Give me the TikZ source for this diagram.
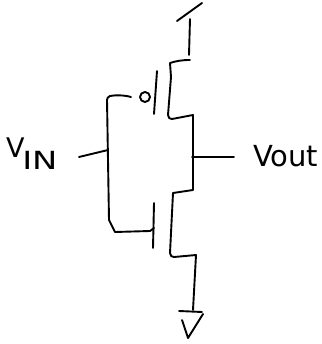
\documentclass[tikz,border=0pt]{standalone}
\usepackage{fontspec}
\setmainfont{DejaVu Sans}
\tikzset{ink/.style={line width=1.9pt,line cap=round,line join=round,black},
 lab/.style={inner sep=0pt,anchor=base west,text=black}}
\begin{document}
\begin{tikzpicture}[x=1pt,y=-1pt]
\useasboundingbox (0,0) rectangle (321,344);
% supply
\draw[ink] (177,21) -- (202,3);
\draw[ink] (190,19) -- (189,55);
% channel
\draw[ink] (190,60) .. controls (182,60) and (176,61) .. (170,63) -- (171,77) -- (168,115) .. controls (168,118) and (170,119) .. (172,119) -- (193,115) -- (193,190)
 -- (173,193) -- (170,253) .. controls (170,256) and (172,257) .. (174,257) -- (196,255) -- (193,310);
% ground
\draw[ink] (179,311) -- (202,312);
\draw[ink] (182,320) -- (188,338) -- (203,314);
% gates
\draw[ink] (157,71) -- (154,114);
\draw[ink] (154,203) -- (153,248);
\draw[ink] (145,97) circle (5);
% gate wire
\draw[ink] (131,97) .. controls (124,95) and (115,95) .. (110,96) .. controls (108,97) and (107,98) .. (107,100) -- (109,220) -- (115,232) -- (150,231) -- (154,228);
% stubs
\draw[ink] (79,157) -- (108,150);
\draw[ink] (192,157) -- (234,157);
% labels
\node[lab,font=\fontsize{27}{27}\selectfont] (vin) at (6,158) {V};
\node[lab,font=\fontsize{25}{25}\selectfont,xscale=1.35] (in) at (22,170) {IN};
\node[lab,font=\fontsize{29}{29}\selectfont] (vout) at (253,167) {Vout};
\end{tikzpicture}
\end{document}
